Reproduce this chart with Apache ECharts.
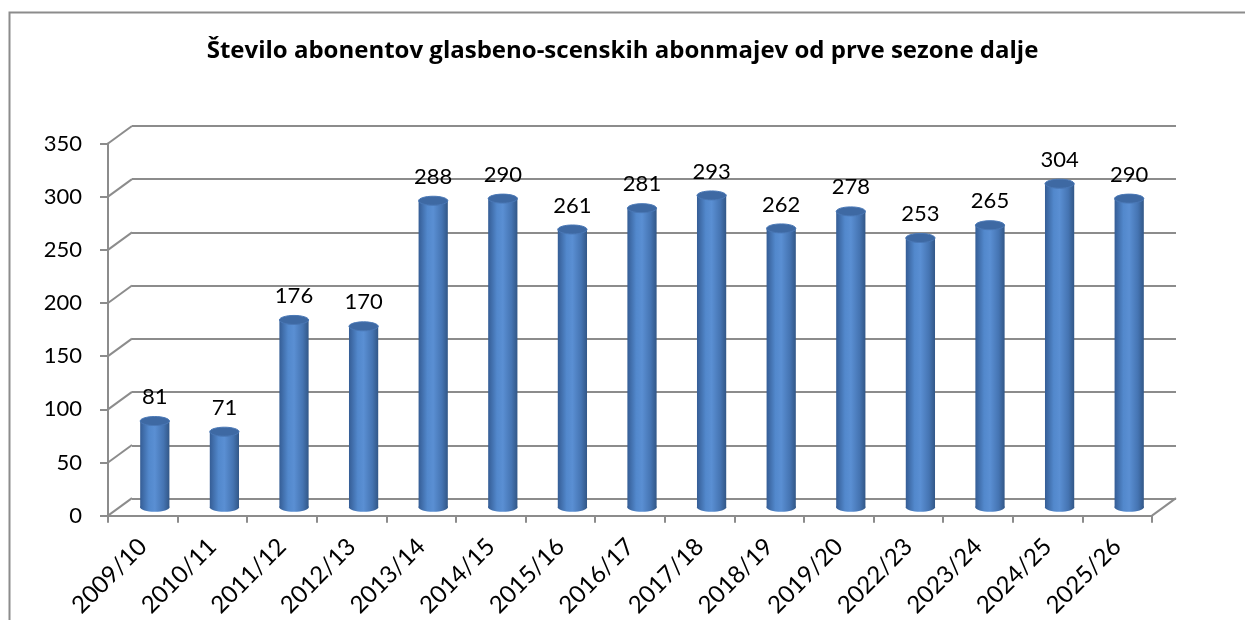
<!DOCTYPE html>
<html>
<head>
<meta charset="utf-8">
<script src="https://cdn.jsdelivr.net/npm/echarts@6/dist/echarts.min.js"></script>
<style>
  html, body { margin: 0; padding: 0; background: #fff; }
  #chart { width: 1245px; height: 620px; }
</style>
</head>
<body>
<div id="chart"></div>
<script>
const categories = ['2009/10', '2010/11', '2011/12', '2012/13', '2013/14', '2014/15', '2015/16', '2016/17',
  '2017/18', '2018/19', '2019/20', '2022/23', '2023/24', '2024/25', '2025/26'];
const subscribers = [81, 71, 176, 170, 288, 290, 261, 281, 293, 262, 278, 253, 265, 304, 290];
const yTicks = [0, 50, 100, 150, 200, 250, 300, 350];

// depth of the fake 3d box (back wall offset)
const DX = 24;
const DY = -17.5;
const FONT = 'Lato, "Open Sans", sans-serif';
const TITLE_FONT = '"Open Sans", Lato, sans-serif';
const GRID_COLOR = '#8c8c8c';

const gridBox = { left: 108, top: 143.5, width: 1044, height: 372.5 };

const cylinderFill = new echarts.graphic.LinearGradient(0, 0, 1, 0, [
  { offset: 0, color: '#355d95' },
  { offset: 0.3, color: '#5288cc' },
  { offset: 0.5, color: '#5a8fd3' },
  { offset: 0.8, color: '#4574b2' },
  { offset: 1, color: '#325787' }
]);

function renderCylinder (params, api) {
  const top = api.coord([api.value(0), api.value(1)]);
  const base = api.coord([api.value(0), 0]);
  const w = api.size([1, 0])[0] * 0.42;
  const rx = w / 2;
  const ry = 4.5;
  return {
    type: 'group',
    children: [
      { type: 'ellipse', shape: { cx: top[0], cy: base[1], rx: rx, ry: ry }, style: { fill: cylinderFill } },
      { type: 'rect', shape: { x: top[0] - rx, y: top[1], width: w, height: base[1] - top[1] }, style: { fill: cylinderFill } },
      { type: 'ellipse', shape: { cx: top[0], cy: top[1], rx: rx, ry: ry }, style: { fill: '#3e69a3', stroke: '#4a78b6', lineWidth: 1 } },
      {
        type: 'text',
        style: {
          text: String(api.value(1)), x: top[0], y: top[1] - 24,
          align: 'center', verticalAlign: 'middle',
          font: '22px ' + FONT, fill: '#000'
        }
      }
    ]
  };
}

// diagonal lines of the left wall, one per tick
function renderWallEdge (params, api) {
  const p = api.coord([0, api.value(0)]);
  const x0 = p[0] - api.size([1, 0])[0] / 2;
  return {
    type: 'line',
    shape: { x1: x0, y1: p[1], x2: x0 + DX, y2: p[1] + DY },
    style: { stroke: GRID_COLOR, lineWidth: 2 }
  };
}

// right edge of the floor
function renderFloorEdge (params, api) {
  const p = api.coord([categories.length - 1, 0]);
  const x0 = p[0] + api.size([1, 0])[0] / 2;
  return {
    type: 'line',
    shape: { x1: x0, y1: p[1], x2: x0 + DX, y2: p[1] + DY },
    style: { stroke: GRID_COLOR, lineWidth: 2 }
  };
}

const chart = echarts.init(document.getElementById('chart'));

const hiddenX = (i) => ({ type: 'category', gridIndex: i, data: categories, show: false });
const hiddenY = (i) => ({ type: 'value', gridIndex: i, min: 0, max: 350, interval: 50, show: false });

chart.setOption({
  animation: false,
  textStyle: { fontFamily: FONT },
  title: {
    text: 'Število abonentov glasbeno-scenskih abonmajev od prve sezone dalje',
    left: 'center',
    top: 34,
    textStyle: { fontSize: 24, fontWeight: 'bold', color: '#000', fontFamily: TITLE_FONT }
  },
  graphic: [
    { type: 'polyline', shape: { points: [[9.5, 640], [9.5, 12.5], [1260, 12.5]] }, style: { stroke: '#8c8c8c', lineWidth: 2, fill: null } }
  ],
  grid: [
    Object.assign({}, gridBox),
    Object.assign({}, gridBox, { left: gridBox.left + DX / 2, top: gridBox.top + DY / 2 }),
    Object.assign({}, gridBox, { left: gridBox.left + DX, top: gridBox.top + DY })
  ],
  xAxis: [
    {
      type: 'category',
      gridIndex: 0,
      data: categories,
      axisLine: { lineStyle: { color: GRID_COLOR, width: 2 } },
      axisTick: { show: true, length: 7, lineStyle: { color: GRID_COLOR, width: 2 } },
      axisLabel: { rotate: 45, fontSize: 24, color: '#000', margin: 27, fontFamily: FONT, interval: 0 }
    },
    hiddenX(1),
    hiddenX(2)
  ],
  yAxis: [
    {
      type: 'value',
      gridIndex: 0,
      min: 0,
      max: 350,
      interval: 50,
      axisLine: { show: true, lineStyle: { color: GRID_COLOR, width: 2 } },
      axisTick: { show: true, length: 8, lineStyle: { color: GRID_COLOR, width: 2 } },
      splitLine: { show: false },
      axisLabel: { fontSize: 22, color: '#000', margin: 26, fontFamily: FONT }
    },
    hiddenY(1),
    {
      type: 'value',
      gridIndex: 2,
      min: 0,
      max: 350,
      interval: 50,
      axisLine: { show: false },
      axisTick: { show: false },
      axisLabel: { show: false },
      splitLine: { show: true, lineStyle: { color: GRID_COLOR, width: 2 } }
    }
  ],
  series: [
    {
      type: 'custom',
      xAxisIndex: 0,
      yAxisIndex: 0,
      renderItem: renderWallEdge,
      data: yTicks.map(v => [v]),
      silent: true,
      z: 1
    },
    {
      type: 'custom',
      xAxisIndex: 0,
      yAxisIndex: 0,
      renderItem: renderFloorEdge,
      data: [[0]],
      silent: true,
      z: 1
    },
    {
      type: 'custom',
      xAxisIndex: 1,
      yAxisIndex: 1,
      renderItem: renderCylinder,
      data: subscribers.map((v, i) => [i, v]),
      z: 5
    }
  ]
});
</script>
</body>
</html>
